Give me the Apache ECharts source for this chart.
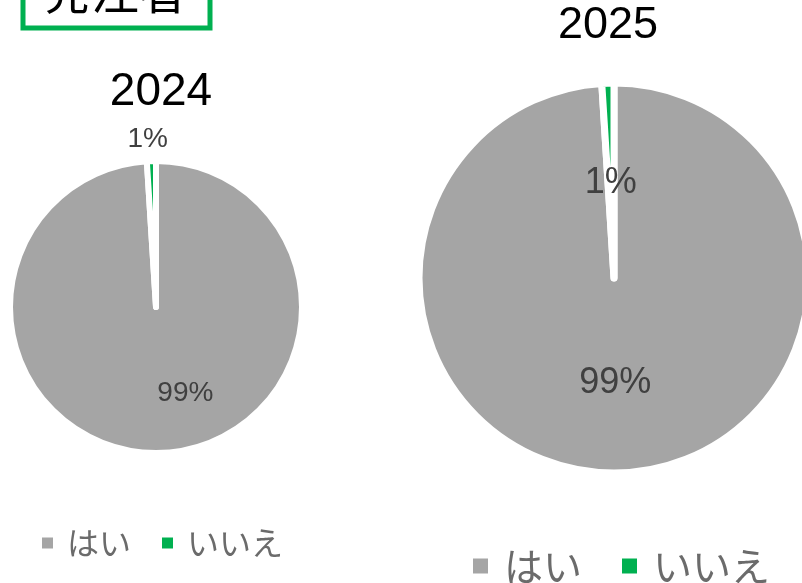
<!DOCTYPE html>
<html>
<head>
<meta charset="utf-8">
<style>
  html, body { margin: 0; padding: 0; background: #ffffff; }
  #chart { width: 802px; height: 583px; }
</style>
<script src="https://cdn.jsdelivr.net/npm/echarts@6/dist/echarts.min.js"></script>
</head>
<body>
<div id="chart"></div>
<script>
// Survey answers (percent) for each year
const heading = '発注者';
const years = ['2024', '2025'];
const categories = ['はい', 'いいえ'];
const values2024 = [99, 1];
const values2025 = [99, 1];
const sliceColors = ['#a5a5a5', '#00b050'];

const JP_FONT = '"Noto Sans CJK JP", "Noto Sans", sans-serif';
const NUM_FONT = '"Liberation Sans", Arial, sans-serif';

function toData(values) {
  return categories.map((name, i) => ({ name, value: values[i] }));
}

const chart = echarts.init(document.getElementById('chart'), null, { renderer: 'canvas' });

chart.setOption({
  backgroundColor: '#ffffff',
  animation: false,
  color: sliceColors,
  graphic: [
    {
      type: 'rect',
      shape: { x: 23, y: -20, width: 187, height: 48 },
      style: { fill: 'none', stroke: '#00b050', lineWidth: 5 }
    },
    {
      type: 'text',
      x: 115, y: -9,
      style: { text: heading, font: '48px ' + JP_FONT, fill: '#000000', align: 'center', verticalAlign: 'middle' }
    },
    {
      type: 'text',
      x: 161, y: 92,
      style: { text: years[0], font: '46px ' + NUM_FONT, fill: '#000000', align: 'center', verticalAlign: 'middle' }
    },
    {
      type: 'text',
      x: 608, y: 26,
      style: { text: years[1], font: '45px ' + NUM_FONT, fill: '#000000', align: 'center', verticalAlign: 'middle' }
    }
  ],
  legend: [
    {
      left: 42, top: 527, padding: 0,
      data: categories,
      icon: 'rect', itemWidth: 11, itemHeight: 11, itemGap: 31,
      itemStyle: { borderWidth: 0 },
      textStyle: { fontFamily: JP_FONT, fontSize: 32, lineHeight: 32, color: '#6b6b6b', padding: [0, 0, 0, 9] }
    },
    {
      left: 473, top: 546, padding: 0,
      data: categories,
      icon: 'rect', itemWidth: 15, itemHeight: 15, itemGap: 40,
      itemStyle: { borderWidth: 0 },
      textStyle: { fontFamily: JP_FONT, fontSize: 39, lineHeight: 40, color: '#6b6b6b', padding: [0, 0, 0, 11] }
    }
  ],
  series: [
    {
      name: years[0],
      type: 'pie',
      center: [156, 307],
      radius: [0, 146],
      startAngle: 90,
      clockwise: true,
      data: toData(values2024),
      itemStyle: { borderColor: '#ffffff', borderWidth: 6 },
      label: {
        position: 'inside',
        formatter: '{c}%',
        fontFamily: NUM_FONT,
        fontSize: 28,
        color: '#404040'
      },
      labelLine: { show: false },
      labelLayout: function (p) {
        return p.dataIndex === 0 ? { dx: 27, dy: 10 } : { dx: -6, dy: -92 };
      },
      emphasis: { disabled: true }
    },
    {
      name: years[1],
      type: 'pie',
      center: [614, 278],
      radius: [0, 195],
      startAngle: 90,
      clockwise: true,
      data: toData(values2025),
      itemStyle: { borderColor: '#ffffff', borderWidth: 7 },
      label: {
        position: 'inside',
        formatter: '{c}%',
        fontFamily: NUM_FONT,
        fontSize: 36,
        color: '#404040'
      },
      labelLine: { show: false },
      labelLayout: function (p) {
        return p.dataIndex === 0 ? { dx: -2, dy: 5 } : { dx: 0, dy: 6 };
      },
      emphasis: { disabled: true }
    }
  ]
});
</script>
</body>
</html>
